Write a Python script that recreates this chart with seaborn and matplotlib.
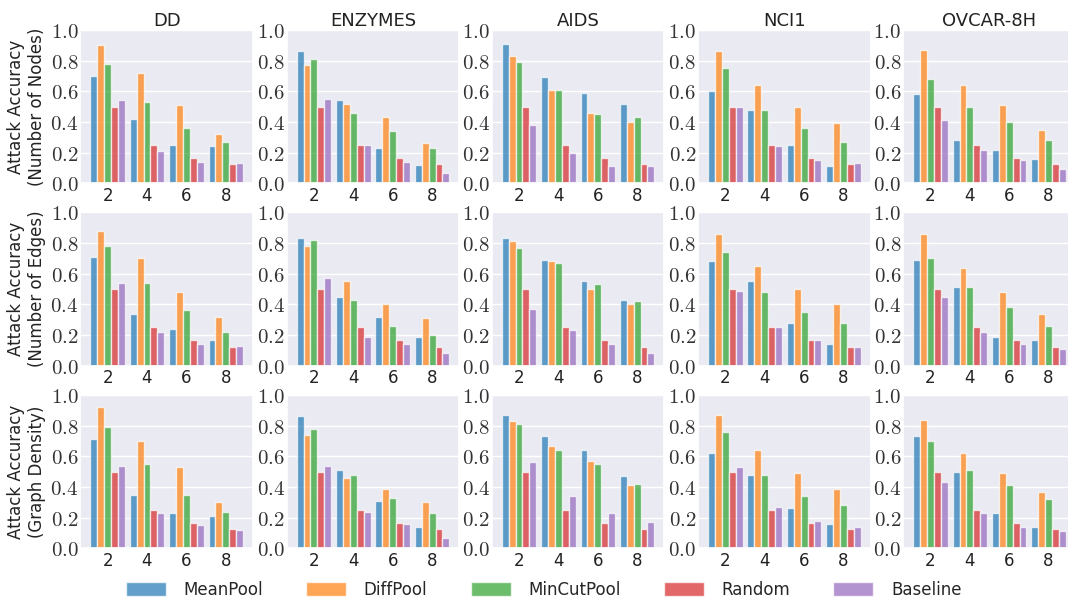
import matplotlib
matplotlib.use("Agg")
import matplotlib.pyplot as plt
import pandas as pd
import seaborn as sns
from matplotlib.patches import Patch
from matplotlib.ticker import FuncFormatter

sns.set_theme(style="darkgrid")
plt.rcParams["font.family"] = ["DejaVu Sans"]
plt.rcParams["mathtext.fontset"] = "cm"

methods = ["MeanPool", "DiffPool", "MinCutPool", "Random", "Baseline"]
k_labels = ["2", "4", "6", "8"]
datasets = ["DD", "ENZYMES", "AIDS", "NCI1", "OVCAR-8H"]
row_labels = ["Attack Accuracy\n(Number of Nodes)",
              "Attack Accuracy\n(Number of Edges)",
              "Attack Accuracy\n(Graph Density)"]
colors = ["#1f77b4", "#ff7f0e", "#2ca02c", "#d62728", "#9467bd"]

# values: one list per method (MeanPool, DiffPool, MinCutPool, Random, Baseline), over k = 2,4,6,8
nodes_dd = [[0.70, 0.42, 0.25, 0.24], [0.90, 0.72, 0.51, 0.32], [0.78, 0.53, 0.36, 0.27],
            [0.50, 0.25, 0.167, 0.125], [0.54, 0.21, 0.14, 0.13]]
nodes_enzymes = [[0.86, 0.54, 0.23, 0.12], [0.77, 0.52, 0.43, 0.26], [0.81, 0.46, 0.34, 0.23],
                 [0.50, 0.25, 0.167, 0.125], [0.55, 0.25, 0.14, 0.07]]
nodes_aids = [[0.91, 0.69, 0.59, 0.52], [0.83, 0.61, 0.46, 0.40], [0.79, 0.61, 0.45, 0.43],
              [0.50, 0.25, 0.167, 0.125], [0.38, 0.20, 0.11, 0.11]]
nodes_nci1 = [[0.60, 0.48, 0.25, 0.11], [0.86, 0.64, 0.50, 0.39], [0.75, 0.48, 0.36, 0.27],
              [0.50, 0.25, 0.167, 0.125], [0.50, 0.24, 0.15, 0.13]]
nodes_ovcar = [[0.58, 0.28, 0.22, 0.16], [0.87, 0.64, 0.51, 0.35], [0.68, 0.50, 0.40, 0.28],
               [0.50, 0.25, 0.167, 0.125], [0.41, 0.22, 0.15, 0.09]]

edges_dd = [[0.71, 0.34, 0.24, 0.17], [0.88, 0.70, 0.48, 0.32], [0.78, 0.54, 0.36, 0.22],
            [0.50, 0.25, 0.167, 0.125], [0.54, 0.22, 0.14, 0.13]]
edges_enzymes = [[0.83, 0.45, 0.32, 0.19], [0.78, 0.55, 0.40, 0.31], [0.82, 0.43, 0.26, 0.20],
                 [0.50, 0.25, 0.167, 0.125], [0.57, 0.19, 0.14, 0.08]]
edges_aids = [[0.83, 0.69, 0.55, 0.43], [0.81, 0.68, 0.50, 0.40], [0.77, 0.67, 0.53, 0.42],
              [0.50, 0.25, 0.167, 0.125], [0.37, 0.23, 0.14, 0.08]]
edges_nci1 = [[0.68, 0.55, 0.28, 0.14], [0.86, 0.65, 0.50, 0.40], [0.74, 0.48, 0.35, 0.28],
              [0.50, 0.25, 0.167, 0.125], [0.49, 0.25, 0.17, 0.12]]
edges_ovcar = [[0.69, 0.51, 0.19, 0.17], [0.86, 0.64, 0.48, 0.34], [0.70, 0.51, 0.38, 0.26],
               [0.50, 0.25, 0.167, 0.125], [0.45, 0.22, 0.14, 0.11]]

density_dd = [[0.71, 0.35, 0.23, 0.21], [0.92, 0.70, 0.53, 0.30], [0.79, 0.55, 0.35, 0.24],
              [0.50, 0.25, 0.167, 0.125], [0.54, 0.23, 0.15, 0.12]]
density_enzymes = [[0.86, 0.51, 0.31, 0.14], [0.74, 0.46, 0.39, 0.30], [0.78, 0.48, 0.33, 0.23],
                   [0.50, 0.25, 0.167, 0.125], [0.54, 0.24, 0.16, 0.07]]
density_aids = [[0.87, 0.73, 0.64, 0.47], [0.83, 0.67, 0.57, 0.41], [0.81, 0.64, 0.55, 0.42],
                [0.50, 0.25, 0.167, 0.125], [0.56, 0.34, 0.23, 0.17]]
density_nci1 = [[0.62, 0.48, 0.26, 0.16], [0.87, 0.64, 0.49, 0.39], [0.76, 0.48, 0.34, 0.28],
                [0.50, 0.25, 0.167, 0.125], [0.53, 0.27, 0.18, 0.14]]
density_ovcar = [[0.73, 0.50, 0.23, 0.14], [0.84, 0.62, 0.49, 0.37], [0.70, 0.51, 0.41, 0.32],
                 [0.50, 0.25, 0.167, 0.125], [0.43, 0.23, 0.14, 0.11]]

panels = [
    [nodes_dd, nodes_enzymes, nodes_aids, nodes_nci1, nodes_ovcar],
    [edges_dd, edges_enzymes, edges_aids, edges_nci1, edges_ovcar],
    [density_dd, density_enzymes, density_aids, density_nci1, density_ovcar],
]

fig = plt.figure(figsize=(10.68, 5.99), dpi=100)
lefts = [0.0753, 0.2685, 0.4605, 0.6537, 0.8458]
bottoms = [0.694, 0.3895, 0.0846]
W, H = 0.1615, 0.2560

for r in range(3):
    for c in range(5):
        ax = fig.add_axes([lefts[c], bottoms[r], W, H])
        vals = panels[r][c]
        rows = [(k, m, v) for m, series in zip(methods, vals) for k, v in zip(k_labels, series)]
        df = pd.DataFrame(rows, columns=["k", "method", "acc"])
        sns.barplot(data=df, x="k", y="acc", hue="method", order=k_labels,
                    hue_order=methods, palette=colors, saturation=1, width=0.875,
                    alpha=0.7, edgecolor="white", linewidth=1, errorbar=None,
                    ax=ax, legend=False)
        ax.set_ylim(0, 1.0)
        ax.set_xlim(-0.69, 3.69)
        ax.set_yticks([0, 0.2, 0.4, 0.6, 0.8, 1.0])
        ax.yaxis.set_major_formatter(FuncFormatter(lambda v, p: f"${v:.1f}$"))
        ax.tick_params(axis="y", labelsize=15, pad=1.5, length=0, labelcolor="#333333")
        ax.tick_params(axis="x", labelsize=12, pad=2.5, length=0, labelcolor="#222222")
        ax.set_xlabel("")
        if c == 0:
            ax.set_ylabel(row_labels[r], fontsize=12, labelpad=3, color="#222222")
        else:
            ax.set_ylabel("")
        if r == 0:
            ax.set_title(datasets[c], fontsize=13, pad=2.5, color="#222222")

handles = [Patch(facecolor=col, alpha=0.7, edgecolor="white") for col in colors]
fig.legend(handles=handles, labels=methods, loc="center", bbox_to_anchor=(0.509, 0.015),
           ncol=5, frameon=False, fontsize=12, handlelength=2.4, handleheight=0.9,
           handletextpad=1.05, columnspacing=2.6, borderaxespad=0, borderpad=0)

fig.savefig("out.png", dpi=100)
